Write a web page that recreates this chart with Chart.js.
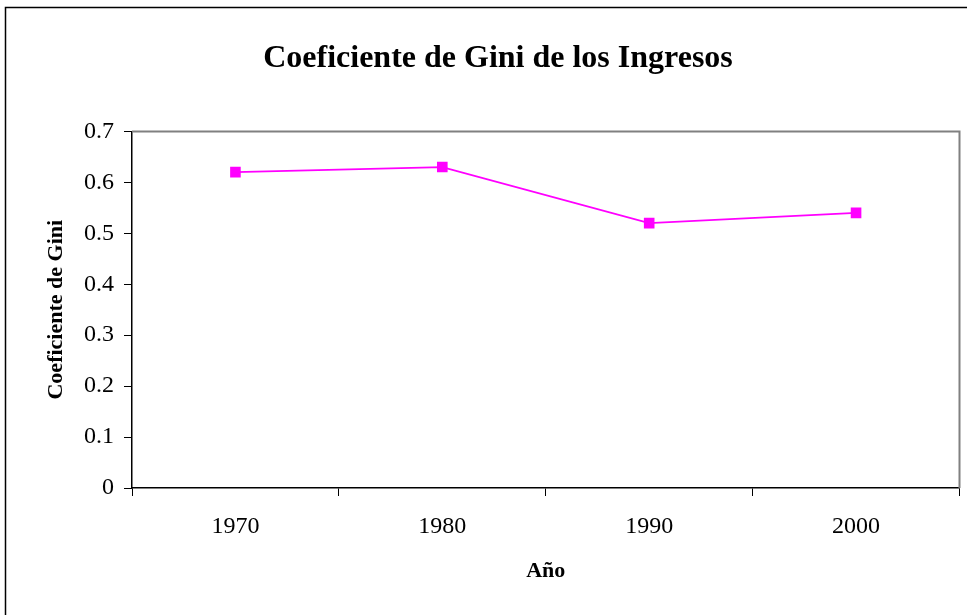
<!DOCTYPE html>
<html lang="es">
<head>
    <meta charset="UTF-8">
    <title>Coeficiente de Gini de los Ingresos</title>
    <script src="https://cdn.jsdelivr.net/npm/chart.js"></script>
    <style>
        html, body { margin: 0; padding: 0; background: #fff; }
        #wrap { width: 967px; height: 615px; position: relative; }
    </style>
</head>
<body>
    <div id="wrap"><canvas id="giniChart" width="967" height="615"></canvas></div>

    <script>
        // datos
        const years = ['1970', '1980', '1990', '2000'];
        const giniValues = [0.62, 0.63, 0.52, 0.54];
        const yTicks = [0, 0.1, 0.2, 0.3, 0.4, 0.5, 0.6, 0.7];

        const serif = "'Liberation Serif', 'Times New Roman', serif";

        // marco exterior del grafico (estilo Excel)
        const frame = {
            id: 'frame',
            beforeDraw(chart) {
                const ctx = chart.ctx;
                ctx.save();
                ctx.fillStyle = '#fff';
                ctx.fillRect(0, 0, chart.width, chart.height);
                ctx.strokeStyle = '#000';
                ctx.lineWidth = 1.5;
                ctx.strokeRect(5.5, 7.5, chart.width + 20, chart.height + 20);
                ctx.restore();
            },
            afterDatasetsDraw(chart) {
                // borde superior y derecho del area de trazado en gris
                const a = chart.chartArea;
                const ctx = chart.ctx;
                ctx.save();
                ctx.strokeStyle = '#808080';
                ctx.lineWidth = 2;
                ctx.beginPath();
                ctx.moveTo(a.left, a.top);
                ctx.lineTo(a.right, a.top);
                ctx.lineTo(a.right, a.bottom);
                ctx.stroke();
                ctx.restore();
            }
        };

        new Chart(document.getElementById('giniChart'), {
            type: 'line',
            data: {
                labels: years,
                datasets: [{
                    label: 'Gini',
                    data: giniValues,
                    borderColor: '#FF00FF',
                    backgroundColor: '#FF00FF',
                    borderWidth: 1.8,
                    pointStyle: 'rect',
                    pointRadius: 7.5,
                    pointBorderWidth: 0,
                    tension: 0,
                    fill: false
                }]
            },
            options: {
                responsive: false,
                animation: false,
                layout: { padding: { left: 36, right: 7, top: 0, bottom: 0 } },
                plugins: {
                    legend: { display: false },
                    tooltip: { enabled: false },
                    title: {
                        display: true,
                        text: 'Coeficiente de Gini de los Ingresos',
                        color: '#000',
                        font: { family: serif, size: 32, weight: 'bold' },
                        padding: { top: 40, bottom: 53 }
                    }
                },
                scales: {
                    x: {
                        offset: true,
                        grid: {
                            offset: true,
                            drawOnChartArea: false,
                            drawTicks: true,
                            tickLength: 8,
                            color: '#000'
                        },
                        border: { color: '#000', width: 1.5 },
                        ticks: {
                            color: '#000',
                            padding: 16,
                            font: { family: serif, size: 24 }
                        },
                        title: {
                            display: true,
                            text: 'Año',
                            color: '#000',
                            font: { family: serif, size: 22, weight: 'bold' },
                            padding: { top: 0, bottom: 30 }
                        },
                        afterFit(scale) { scale.height = 127; }
                    },
                    y: {
                        min: 0,
                        max: 0.7,
                        afterBuildTicks(scale) {
                            scale.ticks = yTicks.map(v => ({ value: v }));
                        },
                        grid: {
                            drawOnChartArea: false,
                            drawTicks: true,
                            tickLength: 8,
                            color: '#000'
                        },
                        border: { color: '#000', width: 1.5 },
                        ticks: {
                            color: '#000',
                            padding: 10,
                            font: { family: serif, size: 24 },
                            callback: v => (v === 0 ? '0' : v.toFixed(1))
                        },
                        title: {
                            display: true,
                            text: 'Coeficiente de Gini',
                            color: '#000',
                            font: { family: serif, size: 22, weight: 'bold' },
                            padding: { top: 7, bottom: 0 }
                        },
                        afterFit(scale) { scale.width = 96; }
                    }
                }
            },
            plugins: [frame]
        });
    </script>
</body>
</html>
